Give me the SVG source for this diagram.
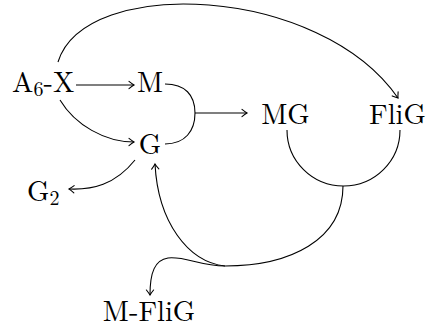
<svg xmlns="http://www.w3.org/2000/svg" width="426" height="327" viewBox="0 0 426 327">
<style>
.c{fill:none;stroke:#000;stroke-width:1.1}
</style>
<defs>
<marker id="ah" markerUnits="userSpaceOnUse" markerWidth="12" markerHeight="12" viewBox="-6 -6 12 12" refX="0" refY="0" orient="auto">
<path d="M-5,-3.6 Q-1.5,-0.8 0,0 Q-1.5,0.8 -5,3.6" fill="none" stroke="#000" stroke-width="1.1" stroke-linecap="round"/>
</marker>
</defs>
<rect width="426" height="327" fill="#fff"/>
<g id="connectors">
<path class="c" d="M76,85 L134,85" marker-end="url(#ah)"/>
<path class="c" d="M60,100 C75,125 105,142 134,142" marker-end="url(#ah)"/>
<path class="c" d="M58,62 C85,-25 320,-15 398,98" marker-end="url(#ah)"/>
<path class="c" d="M165,84 C185,84 195,95 195,113 C195,131 185,144 165,144"/>
<path class="c" d="M195,113 L247,113" marker-end="url(#ah)"/>
<path class="c" d="M135,160 C115,185 92,190 69,189" marker-end="url(#ah)"/>
<path class="c" d="M287,130 A56.5 56 0 0 0 400,130"/>
<path class="c" d="M343,186 C343,240 290,266 225,266"/>
<path class="c" d="M225,266 C188,262 158,222 155,164" marker-end="url(#ah)"/>
<path class="c" d="M225,266 C200,266 185,256 168,258 C155,260 150,272 150,295" marker-end="url(#ah)"/>
</g>
<g id="node-A6X"><text x="12" y="92" font-size="28.5" font-family="'Latin Modern Roman', 'Liberation Serif', serif">A<tspan font-size="20" dy="4">6</tspan><tspan dy="-4">-X</tspan></text></g>
<g id="node-M"><text x="150" y="92" font-size="28.5" text-anchor="middle" font-family="'Latin Modern Roman', 'Liberation Serif', serif">M</text></g>
<g id="node-G"><text x="150" y="154" font-size="28.5" text-anchor="middle" font-family="'Latin Modern Roman', 'Liberation Serif', serif">G</text></g>
<g id="node-MG"><text x="285.5" y="124" font-size="28.5" text-anchor="middle" font-family="'Latin Modern Roman', 'Liberation Serif', serif">MG</text></g>
<g id="node-FliG"><text x="397.5" y="124" font-size="28.5" text-anchor="middle" font-family="'Latin Modern Roman', 'Liberation Serif', serif">FliG</text></g>
<g id="node-G2"><text x="27" y="201" font-size="28.5" font-family="'Latin Modern Roman', 'Liberation Serif', serif">G<tspan font-size="20" dy="4">2</tspan></text></g>
<g id="node-MFliG"><text x="149" y="320.5" font-size="28.5" text-anchor="middle" font-family="'Latin Modern Roman', 'Liberation Serif', serif">M-FliG</text></g>
</svg>
